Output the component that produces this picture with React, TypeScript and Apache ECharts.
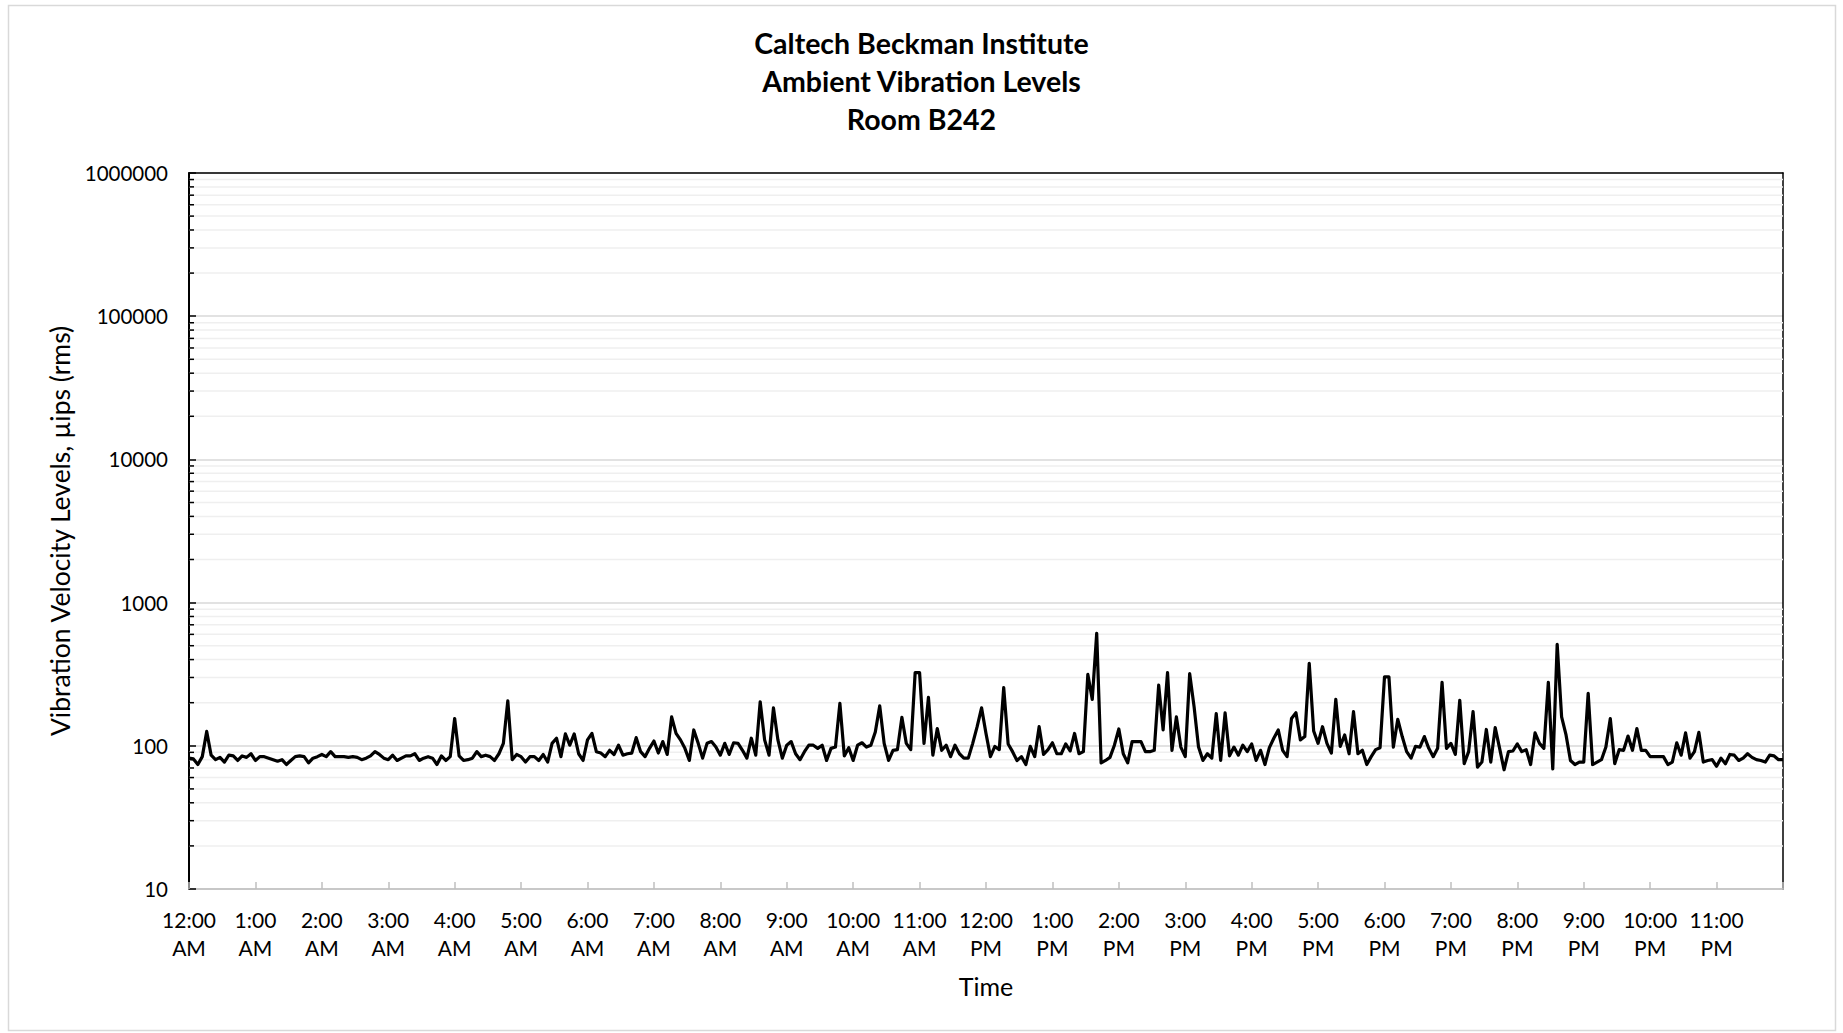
import React, { useEffect, useRef } from "react";
import * as echarts from "echarts";

// Vibration velocity (µips rms), one reading every 4 minutes, 12:00 AM -> 12:00 AM
const VALUES_NIGHT = [
  82, 81, 74, 84, 126, 86, 80, 83, 77, 86, 85, 79, 85, 83, 88, 79, 84, 84, 82, 80,
  78, 80, 74, 79, 84, 85, 84, 76, 82, 84, 87, 84, 91, 84, 84, 84, 83, 84, 83, 80,
  82, 85, 91, 87, 82, 80, 86, 79, 82, 85, 85, 88, 79, 82, 84, 82, 74, 85, 79, 84,
  155, 85, 79, 80, 82, 91, 84, 86, 84, 79, 88, 104, 206, 80, 87, 84, 77, 84, 84, 79,
  87, 77, 104, 113, 84, 121, 101, 121, 88, 79,
];
const VALUES_MORNING = [
  110, 122, 91, 89, 84, 93, 87, 101, 86, 88, 89, 114, 91, 84, 96, 108, 89, 107, 87, 159,
  122, 110, 96, 79, 129, 104, 82, 104, 107, 98, 86, 104, 87, 105, 104, 93, 82, 113, 86, 203,
  110, 86, 184, 110, 82, 101, 107, 88, 80, 91, 101, 101, 96, 101, 79, 96, 98, 198, 85, 97,
  79, 101, 105, 98, 101, 125, 190, 104, 79, 93, 94, 158, 104, 94, 324, 324, 104, 218, 86, 132,
  93, 101, 84, 101, 88, 82, 82, 104, 136, 184,
];
const VALUES_AFTERNOON = [
  122, 84, 99, 94, 255, 103, 91, 79, 84, 74, 99, 84, 136, 87, 94, 105, 88, 88, 103, 92,
  122, 88, 91, 315, 211, 610, 76, 79, 83, 101, 131, 88, 76, 107, 107, 107, 91, 91, 93, 265,
  129, 325, 93, 159, 98, 84, 319, 187, 98, 79, 88, 82, 168, 79, 170, 85, 98, 86, 101, 91,
  103, 79, 93, 74, 97, 113, 129, 93, 84, 155, 170, 110, 116, 376, 127, 104, 136, 104, 89, 211,
  99, 119, 88, 173, 88, 93, 74, 84, 94, 97,
];
const VALUES_EVENING = [
  303, 303, 98, 153, 116, 91, 82, 99, 98, 116, 96, 84, 96, 277, 96, 104, 87, 208, 75, 91,
  173, 71, 77, 130, 77, 134, 96, 68, 91, 92, 103, 91, 94, 74, 123, 104, 96, 277, 69, 512,
  159, 119, 79, 74, 77, 77, 232, 74, 77, 80, 98, 155, 75, 94, 93, 117, 93, 132, 93, 93,
  84, 84, 84, 84, 74, 77, 105, 86, 123, 82, 91, 124, 77, 79, 80, 72, 82, 75, 87, 86,
  79, 82, 88, 83, 80, 79, 77, 86, 85, 80, 80,
];
const VALUES = [...VALUES_NIGHT, ...VALUES_MORNING, ...VALUES_AFTERNOON, ...VALUES_EVENING];

const HOUR_LABELS = [
  "12:00\nAM", "1:00\nAM", "2:00\nAM", "3:00\nAM", "4:00\nAM", "5:00\nAM",
  "6:00\nAM", "7:00\nAM", "8:00\nAM", "9:00\nAM", "10:00\nAM", "11:00\nAM",
  "12:00\nPM", "1:00\nPM", "2:00\nPM", "3:00\nPM", "4:00\nPM", "5:00\nPM",
  "6:00\nPM", "7:00\nPM", "8:00\nPM", "9:00\nPM", "10:00\nPM", "11:00\nPM",
];
const SAMPLES_PER_HOUR = 15;
const DECADES = [10, 100, 1000, 10000, 100000];
const MINOR_STEPS = [2, 3, 4, 5, 6, 7, 8, 9];

const TITLE = "Caltech Beckman Institute\nAmbient Vibration Levels\nRoom B242";
const Y_NAME = "Vibration Velocity Levels, \u00b5ips (rms)";
const X_NAME = "Time";

const FONT = "Lato, 'Open Sans', sans-serif";

export default function App() {
  const ref = useRef<HTMLDivElement>(null);
  useEffect(() => {
    if (!ref.current) return;
    const chart = echarts.init(ref.current, null, { renderer: "svg" });
    const categories = VALUES.map((_, i) => String(i));
    const minorValues: number[] = [];
    DECADES.forEach((d) => MINOR_STEPS.forEach((k) => minorValues.push(d * k)));
    const hourTick = (idx: number) => idx % SAMPLES_PER_HOUR === 0;

    chart.setOption({
      animation: false,
      backgroundColor: "#ffffff",
      textStyle: { fontFamily: FONT },
      title: {
        text: TITLE,
        left: "center",
        top: 19,
        textStyle: {
          fontFamily: FONT,
          fontSize: 28.5,
          fontWeight: "bold",
          lineHeight: 38,
          color: "#000",
        },
      },
      graphic: [
        {
          type: "rect",
          shape: { x: 8.5, y: 5.5, width: 1827, height: 1025 },
          style: { fill: "none", stroke: "#d9d9d9", lineWidth: 1.5 },
          silent: true,
        },
      ],
      grid: { left: 189, right: 60, top: 173, bottom: 144, containLabel: false },
      xAxis: [
        {
          type: "category",
          data: categories,
          boundaryGap: false,
          name: X_NAME,
          nameLocation: "middle",
          nameGap: 84,
          nameTextStyle: { fontFamily: FONT, fontSize: 25, color: "#000" },
          axisLine: { show: true, lineStyle: { color: "#bfbfbf", width: 1.5 } },
          axisTick: {
            show: true,
            inside: true,
            length: 7,
            interval: (idx: number) => hourTick(idx),
            lineStyle: { color: "#bfbfbf", width: 1.5 },
          },
          axisLabel: {
            interval: (idx: number) => hourTick(idx) && idx / SAMPLES_PER_HOUR < HOUR_LABELS.length,
            formatter: (_v: string, idx: number) =>
              hourTick(idx) ? HOUR_LABELS[idx / SAMPLES_PER_HOUR] ?? "" : "",
            fontFamily: FONT,
            fontSize: 21,
            lineHeight: 28,
            color: "#000",
            margin: 16,
          },
          splitLine: { show: false },
        },
        {
          type: "category",
          data: categories,
          boundaryGap: false,
          position: "top",
          axisLine: { show: true, lineStyle: { color: "#000", width: 1.5 } },
          axisTick: { show: false },
          axisLabel: { show: false },
          splitLine: { show: false },
        },
      ],
      yAxis: [
        {
          type: "log",
          logBase: 10,
          min: 10,
          max: 1000000,
          interval: 1,
          name: Y_NAME,
          nameLocation: "middle",
          nameGap: 112,
          nameRotate: 90,
          nameTextStyle: { fontFamily: FONT, fontSize: 26.5, color: "#000" },
          axisLine: { show: true, lineStyle: { color: "#000", width: 2 } },
          axisTick: { show: true, inside: true, length: 7, lineStyle: { color: "#000", width: 1.5 } },
          axisLabel: {
            formatter: (v: number) => String(Math.round(v)),
            fontFamily: FONT,
            fontSize: 20.5,
            color: "#000",
            margin: 21,
          },
          splitLine: { show: true, lineStyle: { color: "#d9d9d9", width: 1.5 } },
        },
        {
          type: "log",
          logBase: 10,
          min: 10,
          max: 1000000,
          position: "right",
          axisLine: { show: true, lineStyle: { color: "#000", width: 1.5 } },
          axisTick: { show: false },
          axisLabel: { show: false },
          splitLine: { show: false },
        },
      ],
      series: [
        {
          type: "custom",
          name: "minor",
          xAxisIndex: 0,
          yAxisIndex: 0,
          z: 1,
          silent: true,
          data: minorValues.map((v) => [0, v]),
          renderItem: (params: any, api: any) => {
            const cs = params.coordSys;
            const y = api.coord([0, api.value(1)])[1];
            return {
              type: "group",
              children: [
                {
                  type: "line",
                  shape: { x1: cs.x, y1: y, x2: cs.x + cs.width, y2: y },
                  style: { stroke: "#efefef", lineWidth: 1.5 },
                },
                {
                  type: "line",
                  shape: { x1: cs.x, y1: y, x2: cs.x + 5, y2: y },
                  style: { stroke: "#000", lineWidth: 1.5 },
                },
              ],
            };
          },
        },
        {
          type: "line",
          name: "Vibration",
          data: VALUES,
          xAxisIndex: 0,
          yAxisIndex: 0,
          z: 3,
          symbol: "none",
          lineStyle: { color: "#000", width: 3.2, join: "round" },
        },
      ],
    });
    return () => chart.dispose();
  }, []);

  return (
    <div
      ref={ref}
      style={{ position: "fixed", left: 0, top: 0, width: 1843, height: 1033 }}
    />
  );
}
